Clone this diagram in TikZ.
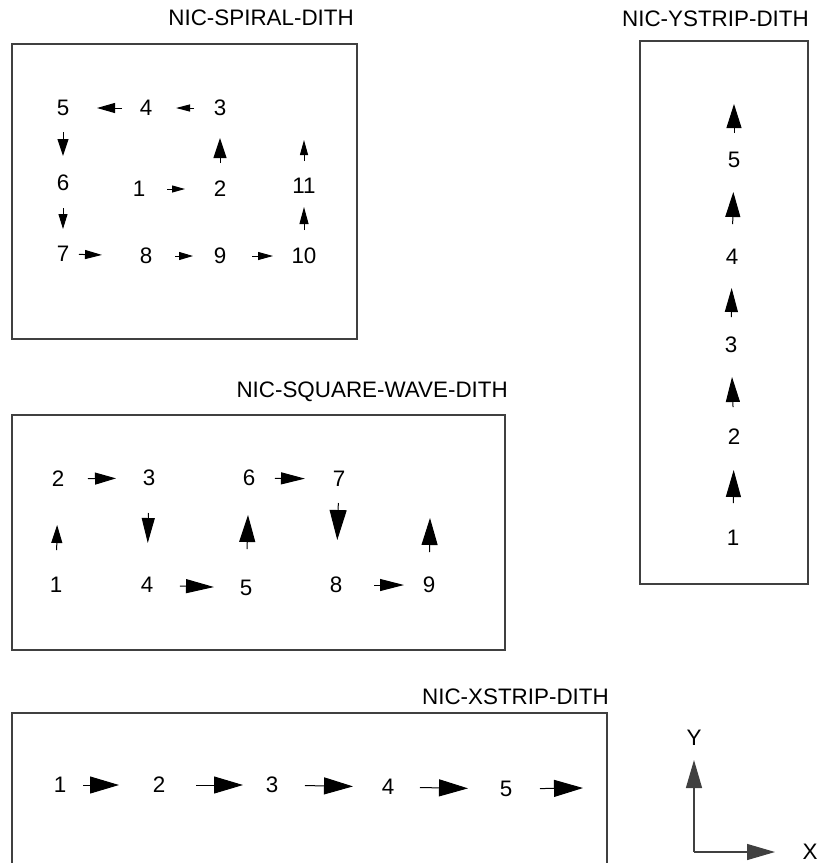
\documentclass[tikz,border=0pt]{standalone}
\usepackage{fontspec}
\setmainfont{Liberation Sans}
\usetikzlibrary{arrows.meta}

\begin{document}
\begin{tikzpicture}[
    x=1pt,y=-1pt,
    num/.style={font=\fontsize{22.4}{26}\selectfont, inner sep=0pt},
    ttl/.style={font=\fontsize{22.4}{26}\selectfont, inner sep=0pt, anchor=east},
    frame/.style={draw=black!75, line width=1.3pt},
    arr/.style={line width=1pt},
    hd/.style 2 args={-{Triangle[length=#1pt,width=#2pt]}},
    gap/.style 2 args={shorten <=#1pt, shorten >=#2pt},
    axis/.style={draw=black!75, line width=1.3pt, -{Triangle[length=28pt,width=16pt]}}
]
\useasboundingbox (0,0) rectangle (819,863);

% Spiral dither
\node[ttl] (tspiral) at (354,18) {NIC-SPIRAL-DITH};
\draw[frame] (12,44) rectangle (357,339);
\node[num] (s1) at (139,189) {1};
\node[num] (s2) at (220,189) {2};
\node[num] (s3) at (220,108) {3};
\node[num] (s4) at (146,108) {4};
\node[num] (s5) at (63,108) {5};
\node[num] (s6) at (63,183) {6};
\node[num] (s7) at (63,254) {7};
\node[num] (s8) at (146,256) {8};
\node[num] (s9) at (220,256) {9};
\node[num] (s10) at (304,256) {10};
\node[num] (s11) at (304,186) {11};
\coordinate (sx) at (304,140);
\draw[arr, hd={13}{7}, gap={28}{35}] (s1.center) -- (s2.center);
\draw[arr, hd={20}{13}, gap={26}{30}] (s2.center) -- (s3.center);
\draw[arr, hd={14}{7}, gap={26}{30}] (s3.center) -- (s4.center);
\draw[arr, hd={18}{10}, gap={24}{34}] (s4.center) -- (s5.center);
\draw[arr, hd={17}{11}, gap={24}{27}] (s5.center) -- (s6.center);
\draw[arr, hd={15}{9}, gap={25}{25}] (s6.center) -- (s7.center);
\draw[arr, hd={17}{9}, gap={16}{44}] (s7.center) -- (s8.center);
\draw[arr, hd={14}{8}, gap={29}{27}] (s8.center) -- (s9.center);
\draw[arr, hd={15}{8}, gap={32}{31}] (s9.center) -- (s10.center);
\draw[arr, hd={17}{9}, gap={26}{21}] (s10.center) -- (s11.center);
\draw[arr, hd={15}{8}, gap={25}{0}] (s11.center) -- (sx);

% Y strip dither
\node[ttl] (tystrip) at (809,19) {NIC-YSTRIP-DITH};
\draw[frame] (640,41) rectangle (808,584);
\node[num] (y1) at (733,538) {1};
\node[num] (y2) at (734,437) {2};
\node[num] (y3) at (731,345) {3};
\node[num] (y4) at (732,257) {4};
\node[num] (y5) at (734,160) {5};
\coordinate (yx) at (734,104);
\draw[arr, hd={27}{15}, gap={35}{33}] (y1.center) -- (y2.center);
\draw[arr, hd={25}{14}, gap={30}{32}] (y2.center) -- (y3.center);
\draw[arr, hd={24}{13}, gap={28}{31}] (y3.center) -- (y4.center);
\draw[arr, hd={25}{15}, gap={33}{32}] (y4.center) -- (y5.center);
\draw[arr, hd={24}{15}, gap={27}{0}] (y5.center) -- (yx);

% Square wave dither
\node[ttl] (tsquare) at (508,392) {NIC-SQUARE-WAVE-DITH};
\draw[frame] (12,415) rectangle (505,650);
\node[num] (w1) at (56,585) {1};
\node[num] (w2) at (58,479) {2};
\node[num] (w3) at (149,478) {3};
\node[num] (w4) at (147,585) {4};
\node[num] (w5) at (246,588) {5};
\node[num] (w6) at (249,478) {6};
\node[num] (w7) at (339,479) {7};
\node[num] (w8) at (336,585) {8};
\node[num] (w9) at (429,585) {9};
\coordinate (wx) at (430,518);
\draw[arr, hd={18}{11}, gap={35}{46}] (w1.center) -- (w2.center);
\draw[arr, hd={21}{12}, gap={30}{33}] (w2.center) -- (w3.center);
\draw[arr, hd={25}{13}, gap={35}{42}] (w3.center) -- (w4.center);
\draw[arr, hd={28}{14}, gap={33}{32}] (w4.center) -- (w5.center);
\draw[arr, hd={27}{16}, gap={39}{37}] (w5.center) -- (w6.center);
\draw[arr, hd={24}{12}, gap={26}{34}] (w6.center) -- (w7.center);
\draw[arr, hd={30}{17}, gap={24}{45}] (w7.center) -- (w8.center);
\draw[arr, hd={24}{12}, gap={38}{25}] (w8.center) -- (w9.center);
\draw[arr, hd={27}{16}, gap={33}{0}] (w9.center) -- (wx);

% X strip dither
\node[ttl] (txstrip) at (609,697) {NIC-XSTRIP-DITH};
\draw[frame] (12,713) rectangle (607,880);
\node[num] (x1) at (60,785) {1};
\node[num] (x2) at (159,785) {2};
\node[num] (x3) at (272,785) {3};
\node[num] (x4) at (388,787) {4};
\node[num] (x5) at (506,789) {5};
\coordinate (xx) at (583,788);
\draw[arr, hd={29}{17}, gap={23}{40}] (x1.center) -- (x2.center);
\draw[arr, hd={29}{17}, gap={37}{29}] (x2.center) -- (x3.center);
\draw[arr, hd={29}{17}, gap={33}{35}] (x3.center) -- (x4.center);
\draw[arr, hd={29}{17}, gap={32}{38}] (x4.center) -- (x5.center);
\draw[arr, hd={29}{17}, gap={34}{0}] (x5.center) -- (xx);

% Axes
\coordinate (org) at (694,852);
\node[num] (ylab) at (694,738) {Y};
\node[num] (xlab) at (810,852) {X};
\draw[axis, shorten >=22pt] (org) -- (ylab.center);
\draw[axis, shorten >=35pt] (org) -- (xlab.center);
\end{tikzpicture}
\end{document}
